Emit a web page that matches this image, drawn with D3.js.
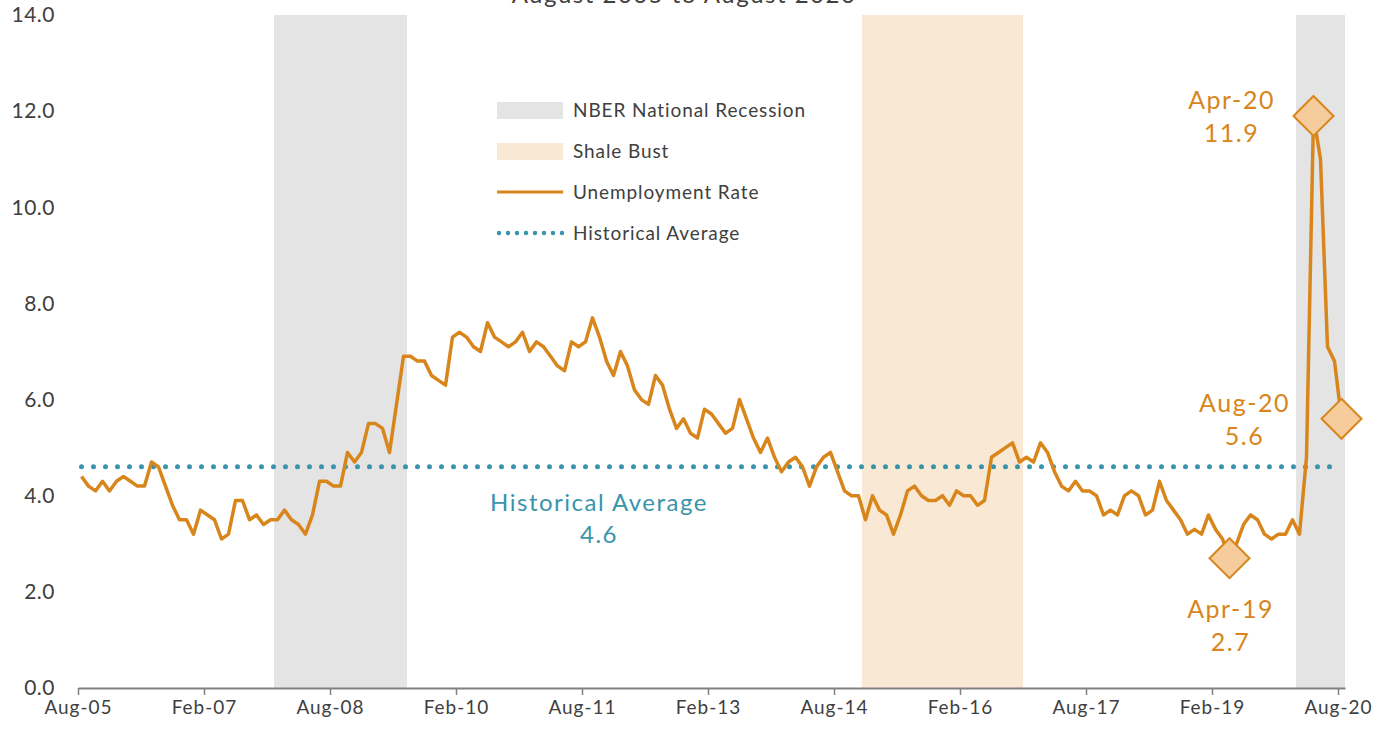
<!DOCTYPE html>
<html>
<head>
<meta charset="utf-8">
<script src="https://cdn.jsdelivr.net/npm/d3@7"></script>
<style>
  body { margin: 0; background: #fff; }
  svg { display: block; font-family: Lato, "Open Sans", sans-serif; }
</style>
</head>
<body>
<svg width="1398" height="733"></svg>
<script>
// monthly unemployment rate, Aug-05 .. Aug-20
const startMonth = new Date(2005, 7, 1);
const rate = [
  4.4, 4.2, 4.1, 4.3, 4.1, 4.3, 4.4, 4.3, 4.2, 4.2, 4.7, 4.6,
  4.2, 3.8, 3.5, 3.5, 3.2, 3.7, 3.6, 3.5, 3.1, 3.2, 3.9, 3.9,
  3.5, 3.6, 3.4, 3.5, 3.5, 3.7, 3.5, 3.4, 3.2, 3.6, 4.3, 4.3,
  4.2, 4.2, 4.9, 4.7, 4.9, 5.5, 5.5, 5.4, 4.9, 5.9, 6.9, 6.9,
  6.8, 6.8, 6.5, 6.4, 6.3, 7.3, 7.4, 7.3, 7.1, 7.0, 7.6, 7.3,
  7.2, 7.1, 7.2, 7.4, 7.0, 7.2, 7.1, 6.9, 6.7, 6.6, 7.2, 7.1,
  7.2, 7.7, 7.3, 6.8, 6.5, 7.0, 6.7, 6.2, 6.0, 5.9, 6.5, 6.3,
  5.8, 5.4, 5.6, 5.3, 5.2, 5.8, 5.7, 5.5, 5.3, 5.4, 6.0, 5.6,
  5.2, 4.9, 5.2, 4.8, 4.5, 4.7, 4.8, 4.6, 4.2, 4.6, 4.8, 4.9,
  4.5, 4.1, 4.0, 4.0, 3.5, 4.0, 3.7, 3.6, 3.2, 3.6, 4.1, 4.2,
  4.0, 3.9, 3.9, 4.0, 3.8, 4.1, 4.0, 4.0, 3.8, 3.9, 4.8, 4.9,
  5.0, 5.1, 4.7, 4.8, 4.7, 5.1, 4.9, 4.5, 4.2, 4.1, 4.3, 4.1,
  4.1, 4.0, 3.6, 3.7, 3.6, 4.0, 4.1, 4.0, 3.6, 3.7, 4.3, 3.9,
  3.7, 3.5, 3.2, 3.3, 3.2, 3.6, 3.3, 3.1, 2.7, 3.0, 3.4, 3.6,
  3.5, 3.2, 3.1, 3.2, 3.2, 3.5, 3.2, 4.8, 11.9, 11.0, 7.1, 6.8, 5.6
];
const tickLabels = ["Aug-05", "Feb-07", "Aug-08", "Feb-10", "Aug-11", "Feb-13",
  "Aug-14", "Feb-16", "Aug-17", "Feb-19", "Aug-20"];
const yTicks = [0, 2, 4, 6, 8, 10, 12, 14];
const recessions = [["Dec-07", "Jun-09"], ["Feb-20", "Aug-20"]];
const shaleBust = [["Dec-14", "Oct-16"]];
const historicalAvg = 4.6;
const callouts = [
  { month: "Apr-20", value: 11.9, dx: -83, dy: -7 },
  { month: "Apr-19", value: 2.7, dx: 0, dy: 60 },
  { month: "Aug-20", value: 5.6, dx: -98, dy: -7 }
];

const svg = d3.select("svg");
const orange = "#D8861C", teal = "#3A94AB";
const parseM = d3.timeParse("%b-%y");
const idx = (m) => d3.timeMonth.count(startMonth, parseM(m));

const x = d3.scaleLinear().domain([0, rate.length]).range([78, 1345]);
const y = d3.scaleLinear().domain([0, 14]).range([688, 15]);
const px = (i) => x(i + 0.5);

// title (cut at top edge, as in the original)
svg.append("text")
  .attr("x", 684).attr("y", 3)
  .attr("text-anchor", "middle")
  .attr("font-size", 24).attr("letter-spacing", 1.5).attr("fill", "#404040")
  .text("August 2005 to August 2020");

// shaded periods
svg.append("g").selectAll("rect").data(recessions).join("rect")
  .attr("x", d => x(idx(d[0])))
  .attr("width", d => x(idx(d[1]) + 1) - x(idx(d[0])))
  .attr("y", y(14)).attr("height", y(0) - y(14))
  .attr("fill", "#E4E4E4");
svg.append("g").selectAll("rect").data(shaleBust).join("rect")
  .attr("x", d => x(idx(d[0])))
  .attr("width", d => x(idx(d[1]) + 1) - x(idx(d[0])))
  .attr("y", y(14)).attr("height", y(0) - y(14))
  .attr("fill", "#F9E8D4");

// y axis labels
const yAxis = svg.append("g")
  .attr("transform", "translate(55,0)")
  .call(d3.axisLeft(y).tickValues(yTicks).tickSize(0).tickPadding(0).tickFormat(d3.format(".1f")));
yAxis.select(".domain").remove();
yAxis.selectAll("text").attr("font-size", 21).attr("letter-spacing", 0.5)
  .attr("fill", "#404040").attr("font-family", "Lato, sans-serif");

// x axis
const xAxis = svg.append("g")
  .attr("transform", `translate(0,${y(0)})`)
  .call(d3.axisBottom(x)
    .tickValues(tickLabels.map((t, i) => i * 18))
    .tickFormat((d, i) => tickLabels[i])
    .tickSize(7).tickSizeOuter(0).tickPadding(6));
xAxis.select(".domain").attr("stroke", "#808080").attr("stroke-width", 2);
xAxis.selectAll(".tick line").attr("stroke", "#808080").attr("stroke-width", 1.5);
xAxis.selectAll("text").attr("font-size", 19).attr("letter-spacing", 1)
  .attr("fill", "#404040").attr("font-family", "Lato, sans-serif");

// historical average
svg.append("line")
  .attr("x1", px(0)).attr("x2", x(180))
  .attr("y1", y(historicalAvg)).attr("y2", y(historicalAvg))
  .attr("stroke", teal).attr("stroke-width", 5)
  .attr("stroke-linecap", "round").attr("stroke-dasharray", "0 12");

svg.append("text")
  .attr("x", 598).attr("y", 511)
  .attr("text-anchor", "middle").attr("font-size", 24)
  .attr("letter-spacing", 1.5).attr("fill", teal)
  .selectAll("tspan").data(["Historical Average", historicalAvg.toFixed(1)]).join("tspan")
  .attr("x", 599).attr("dy", (d, i) => i ? 32 : 0).text(d => d);

// unemployment line
const line = d3.line().x((d, i) => px(i)).y(d => y(d));
svg.append("path")
  .datum(rate)
  .attr("d", line)
  .attr("fill", "none").attr("stroke", orange)
  .attr("stroke-width", 3.5).attr("stroke-linejoin", "round");

// callout diamonds + labels
const cg = svg.append("g").selectAll("g").data(callouts).join("g")
  .attr("transform", d => `translate(${px(idx(d.month))},${y(d.value)})`);
cg.append("path")
  .attr("d", "M0,-20L20,0L0,20L-20,0Z")
  .attr("fill", "#F6CC9C").attr("stroke", orange).attr("stroke-width", 2);
cg.append("text")
  .attr("text-anchor", "middle").attr("font-size", 25)
  .attr("letter-spacing", 1.5).attr("fill", orange)
  .selectAll("tspan").data(d => [[d.month, d], [d.value.toFixed(1), d]]).join("tspan")
  .attr("x", d => d[1].dx + 1)
  .attr("y", (d, i) => d[1].dy + (i ? 33 : 0))
  .text(d => d[0]);

// legend
const legend = svg.append("g").attr("transform", "translate(497,110)");
const items = ["NBER National Recession", "Shale Bust", "Unemployment Rate", "Historical Average"];
const lg = legend.selectAll("g").data(items).join("g")
  .attr("transform", (d, i) => `translate(0,${i * 41})`);
lg.filter((d, i) => i < 2).append("rect")
  .attr("x", 0).attr("y", -8).attr("width", 66).attr("height", 17)
  .attr("fill", (d, i) => i ? "#F9E8D4" : "#E4E4E4");
lg.filter((d, i) => i == 2).append("line")
  .attr("x1", 0).attr("x2", 66).attr("stroke", orange).attr("stroke-width", 3);
lg.filter((d, i) => i == 3).append("line")
  .attr("x1", 2).attr("x2", 66).attr("stroke", teal).attr("stroke-width", 4.5)
  .attr("stroke-linecap", "round").attr("stroke-dasharray", "0 9");
lg.append("text")
  .attr("x", 76).attr("dy", "0.35em")
  .attr("font-size", 19).attr("letter-spacing", 0.9).attr("fill", "#404040")
  .text(d => d);
</script>
</body>
</html>
